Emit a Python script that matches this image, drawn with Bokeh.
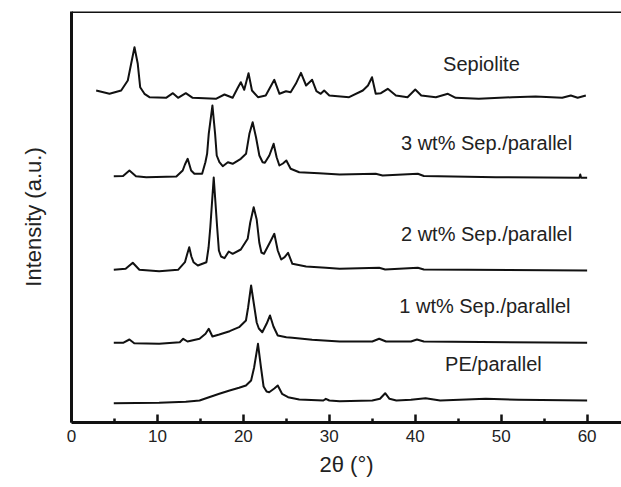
from bokeh.plotting import figure
from bokeh.models import Range1d, FixedTicker, Span, Label
from bokeh.embed import file_html
from bokeh.resources import INLINE

# 2-theta (deg) and stacked intensity (a.u.)
sep_x = [2.87, 4.42, 5.78, 6.55, 6.94, 7.33, 7.71, 7.99, 8.49, 9.07, 11.0, 11.8, 12.4, 13.3, 14.1,
         16.8, 17.8, 18.75, 19.35, 19.7, 20.1, 20.6, 21.0, 21.7, 22.6, 23.6, 24.2, 24.96, 25.5, 26.1,
         26.7, 27.3, 28.0, 28.5, 29.0, 29.4, 30.0, 32.3, 33.9, 34.5, 34.97, 35.4, 36.0, 36.8, 37.75,
         39.1, 40.0, 40.7, 42.4, 43.8, 44.7, 47.4, 51.3, 54.0, 57.1, 58.1, 58.9, 59.85]
sep_y = [332, 328.7, 332, 342, 358.7, 375.3, 358.7, 335.3, 328.7, 325.3, 324.7, 329.3, 324.7,
         329.3, 324.7, 323.7, 328, 324.7, 334.7, 340.3, 332.7, 349.3, 332, 325.3, 327, 342.7, 328.7,
         331.3, 330.3, 338.7, 349.7, 337, 342.7, 331.3, 328.7, 332, 327, 325.3, 332, 337, 345.3,
         328.7, 329.3, 333.7, 327, 325.3, 333, 327, 325.3, 328.7, 324.7, 323.7, 325.3, 326, 324.7,
         327, 324.7, 327]

s3_x = [4.92, 6.0, 6.74, 7.5, 8.7, 12.2, 12.94, 13.2, 13.52, 13.92, 14.3, 15.2, 15.58, 15.78,
        15.97, 16.4, 16.71, 16.9, 17.21, 17.6, 18.2, 18.75, 19.7, 20.31, 20.7, 21.08, 21.47, 21.86,
        22.24, 22.5, 23.02, 23.52, 23.87, 24.19, 24.6, 25.0, 25.5, 26.5, 28.8, 31.2, 35.4, 36.2,
        40.3, 41.0, 49.4, 59.1, 59.2, 59.3, 60.0]
s3_y = [246.3, 246.5, 252, 246.3, 245.3, 246, 252, 258, 263.7, 252, 248.7, 248.7, 260.3, 268.7,
        288.7, 317, 288.7, 267, 260.3, 256.3, 260.3, 258.7, 263.7, 268.7, 288.7, 300.3, 285.3, 267,
        260.3, 259.7, 267, 278.7, 265.3, 257, 259, 262, 253.7, 250.3, 249.3, 248, 248.7, 247, 248.7,
        246.5, 245.3, 244.7, 248, 244.7, 244.7]

s2_x = [4.92, 6.3, 7.13, 7.9, 10.2, 12.4, 13.2, 13.45, 13.7, 13.95, 14.2, 14.7, 15.7, 15.95, 16.15,
        16.55, 16.95, 17.15, 17.4, 17.8, 18.3, 18.75, 19.7, 20.5, 20.8, 21.2, 21.55, 21.85, 22.1,
        22.4, 23.1, 23.6, 24.0, 24.4, 24.8, 25.2, 25.7, 27.3, 29.6, 31.2, 35.8, 36.5, 40.3, 41.0,
        60.0]
s2_y = [152.7, 153.7, 159.7, 152.7, 151.3, 152.7, 160.3, 168, 175.3, 166, 160.3, 157, 160.3, 175,
        195, 245, 195, 172, 166, 164.3, 171, 168.7, 173, 183.7, 200, 215.3, 203, 180, 170, 168.7,
        180.3, 188.7, 172, 163, 165.3, 169.7, 158.7, 156, 154.7, 153.7, 154.7, 153, 154.7, 153, 152]

s1_x = [4.92, 6.0, 6.74, 7.3, 10.2, 12.6, 13.0, 13.5, 14.9, 15.6, 15.97, 16.4, 17.2, 18.4, 19.5,
        20.3, 20.55, 20.9, 21.25, 21.55, 21.8, 22.2, 22.7, 23.1, 23.5, 24.0, 25.0, 25.7, 28.0, 31.2,
        35.0, 35.8, 36.6, 39.5, 40.2, 41.0, 60.0]
s1_y = [79.7, 79.7, 83, 79.3, 78.7, 80.3, 83.7, 81, 83.7, 88.7, 93.7, 86, 88, 91.3, 95.3, 102,
        115, 137, 117, 100, 94, 90.3, 98.7, 107, 96, 87, 85.3, 84.7, 82.7, 81, 81, 83.7, 81, 81,
        83, 81, 79.7]

pe_x = [4.92, 10.2, 13.3, 14.9, 16.0, 17.2, 18.4, 19.5, 20.3, 20.9, 21.25, 21.7, 22.05, 22.35,
        22.7, 23.0, 23.6, 24.0, 24.5, 25.2, 26.5, 29.3, 29.6, 30.0, 31.2, 35.0, 35.9, 36.5, 37.0,
        37.8, 39.5, 41.2, 42.9, 48.2, 52.0, 60.0]
pe_y = [19.3, 19.7, 20.7, 22, 25.3, 28.7, 32, 34.7, 37, 42, 55, 78.7, 55, 36, 31, 30.3, 34, 37,
        28.7, 25.3, 23, 22, 23.7, 22, 21.3, 22, 23.7, 29.3, 23.7, 22, 22.7, 24.3, 22, 23.7, 22.7, 22]

series_names = ["Sepiolite", "3 wt% Sep./parallel", "2 wt% Sep./parallel",
                "1 wt% Sep./parallel", "PE/parallel"]
x_ticks = [0, 10, 20, 30, 40, 50, 60]
x_minor = [5, 15, 25, 35, 45, 55]

# label anchor positions (layout only)
label_pos = [(47.7, 359), (48.3, 280), (48.3, 189), (48.1, 117), (49.1, 59)]

FONT = "Liberation Sans"
INK = "#111111"

p = figure(width=621, height=487, output_backend="svg", toolbar_location=None,
           x_range=Range1d(0, 64), y_range=Range1d(0, 411),
           min_border_left=71, min_border_right=0, min_border_top=11, min_border_bottom=65)
p.outline_line_color = None
p.xgrid.visible = False
p.ygrid.visible = False
p.background_fill_color = "white"
p.border_fill_color = "white"

for xs, ys in [(sep_x, sep_y), (s3_x, s3_y), (s2_x, s2_y), (s1_x, s1_y), (pe_x, pe_y)]:
    p.line(xs, ys, line_color=INK, line_width=2, line_join="round")

for name, (lx, ly) in zip(series_names, label_pos):
    p.add_layout(Label(x=lx, y=ly, text=name, text_align="center", text_baseline="middle",
                       text_font=FONT, text_font_size="20px", text_color="#222222"))

xa = p.xaxis[0]
xa.ticker = FixedTicker(ticks=x_ticks, minor_ticks=x_minor)
xa.axis_line_width = 3
xa.axis_line_color = INK
xa.major_tick_in = 8
xa.major_tick_out = 0
xa.minor_tick_in = 4
xa.minor_tick_out = 0
xa.major_tick_line_width = 2.5
xa.minor_tick_line_width = 2.5
xa.major_tick_line_color = INK
xa.minor_tick_line_color = INK
xa.major_label_text_font = FONT
xa.major_label_text_font_size = "17px"
xa.major_label_text_color = "#222222"
xa.major_label_standoff = 7
xa.axis_label = "2θ (°)"
xa.axis_label_text_font = FONT
xa.axis_label_text_font_size = "22px"
xa.axis_label_text_font_style = "normal"
xa.axis_label_text_color = "#222222"
xa.axis_label_standoff = 7

ya = p.yaxis[0]
ya.ticker = FixedTicker(ticks=[])
ya.axis_line_width = 3
ya.axis_line_color = INK
ya.major_tick_line_color = None
ya.minor_tick_line_color = None
ya.major_label_text_font_size = "0px"
ya.axis_label = "Intensity (a.u.)"
ya.axis_label_text_font = FONT
ya.axis_label_text_font_size = "22px"
ya.axis_label_text_font_style = "normal"
ya.axis_label_text_color = "#222222"
ya.axis_label_standoff = 26

p.add_layout(Span(location=411, dimension="width", line_color=INK, line_width=3))

open("out.html", "w").write(file_html(p, INLINE))
